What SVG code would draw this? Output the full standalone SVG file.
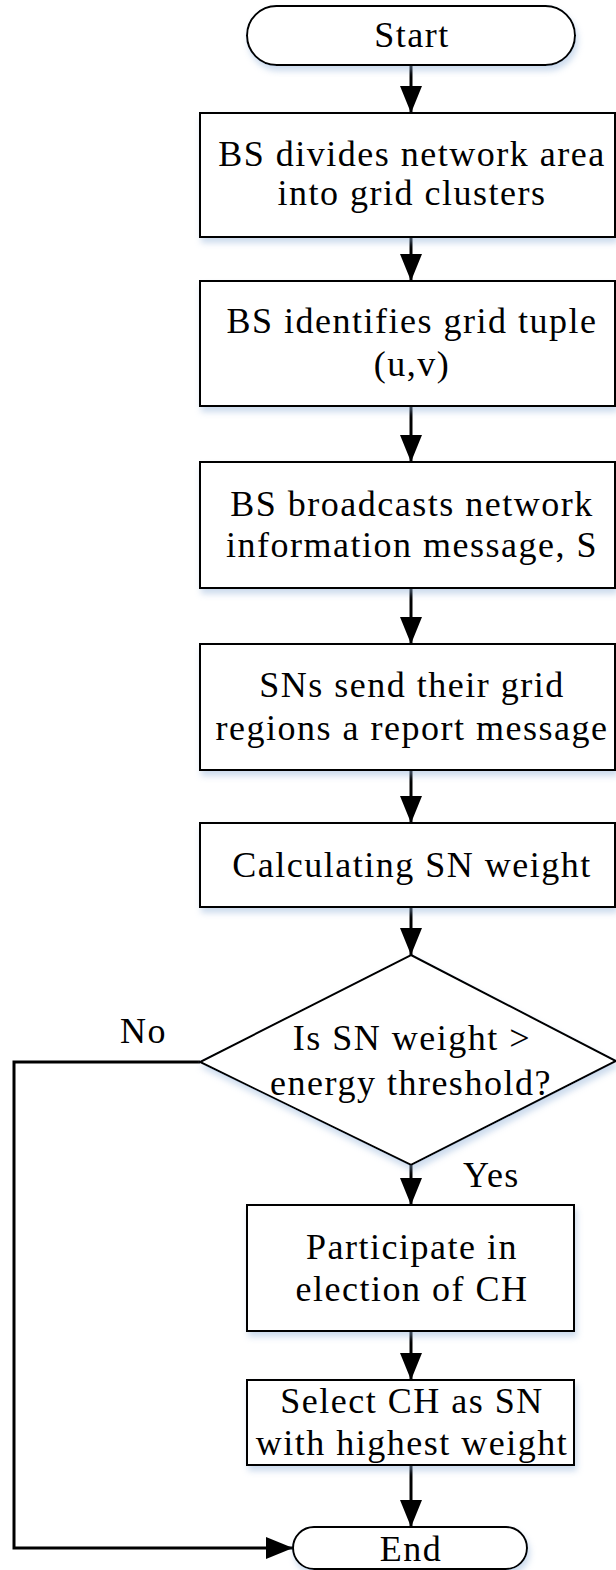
<svg xmlns="http://www.w3.org/2000/svg" width="616" height="1570" viewBox="0 0 616 1570">
<style>
  .shape { fill: #ffffff; stroke: #000000; stroke-width: 2; filter: url(#shadow); }
  .conn { fill: none; stroke: #000000; stroke-width: 3; }
  text { font-family: "Liberation Serif", "Times New Roman", serif; font-size: 36px; letter-spacing: 1.5px; fill: #000000; }
  .c { text-anchor: middle; }
</style>
<defs>
  <filter id="shadow" x="-10%" y="-10%" width="125%" height="130%">
    <feDropShadow dx="2" dy="5" stdDeviation="3" flood-color="#8fb0d8" flood-opacity="0.45"/>
  </filter>
  <marker id="arrow" markerUnits="userSpaceOnUse" markerWidth="28" markerHeight="24" refX="27" refY="11" orient="auto">
    <path d="M0,0 L27,11 L0,22 Z" fill="#000000"/>
  </marker>
</defs>

<g id="connectors">
  <line class="conn" x1="411" y1="65" x2="411" y2="113" marker-end="url(#arrow)"/>
  <line class="conn" x1="411" y1="237" x2="411" y2="281" marker-end="url(#arrow)"/>
  <line class="conn" x1="411" y1="406" x2="411" y2="462" marker-end="url(#arrow)"/>
  <line class="conn" x1="411" y1="588" x2="411" y2="644" marker-end="url(#arrow)"/>
  <line class="conn" x1="411" y1="770" x2="411" y2="823" marker-end="url(#arrow)"/>
  <line class="conn" x1="411" y1="907" x2="411" y2="955" marker-end="url(#arrow)"/>
  <line class="conn" x1="411" y1="1165" x2="411" y2="1205" marker-end="url(#arrow)"/>
  <line class="conn" x1="411" y1="1331" x2="411" y2="1380" marker-end="url(#arrow)"/>
  <line class="conn" x1="411" y1="1465" x2="411" y2="1527" marker-end="url(#arrow)"/>
  <polyline class="conn" points="200,1062 14,1062 14,1548 293,1548" marker-end="url(#arrow)"/>
  <text x="120" y="1043">No</text>
  <text x="463" y="1187">Yes</text>
</g>

<g id="start">
  <rect class="shape" x="247" y="6" width="328" height="59" rx="29.5" ry="29.5"/>
  <text class="c" x="412" y="47">Start</text>
</g>

<g id="divide">
  <rect class="shape" x="200" y="113" width="415" height="124"/>
  <text class="c" x="412" y="166">BS divides network area</text>
  <text class="c" x="412" y="205">into grid clusters</text>
</g>

<g id="identify">
  <rect class="shape" x="200" y="281" width="415" height="125"/>
  <text class="c" x="412" y="333">BS identifies grid tuple</text>
  <text class="c" x="412" y="376">(u,v)</text>
</g>

<g id="broadcast">
  <rect class="shape" x="200" y="462" width="415" height="126"/>
  <text class="c" x="412" y="516">BS broadcasts network</text>
  <text class="c" x="412" y="557">information message, S</text>
</g>

<g id="report">
  <rect class="shape" x="200" y="644" width="415" height="126"/>
  <text class="c" x="412" y="697">SNs send their grid</text>
  <text class="c" x="412" y="740">regions a report message</text>
</g>

<g id="calc">
  <rect class="shape" x="200" y="823" width="415" height="84"/>
  <text class="c" x="412" y="877">Calculating SN weight</text>
</g>

<g id="decision">
  <polygon class="shape" points="411,955 616,1061 411,1165 200,1062"/>
  <text class="c" x="412" y="1050">Is SN weight &gt;</text>
  <text class="c" x="411" y="1095">energy threshold?</text>
</g>

<g id="participate">
  <rect class="shape" x="247" y="1205" width="327" height="126"/>
  <text class="c" x="412" y="1259">Participate in</text>
  <text class="c" x="412" y="1301">election of CH</text>
</g>

<g id="select">
  <rect class="shape" x="247" y="1380" width="327" height="85"/>
  <text class="c" x="412" y="1413">Select CH as SN</text>
  <text class="c" x="412" y="1455">with highest weight</text>
</g>

<g id="end">
  <rect class="shape" x="293" y="1527" width="234" height="42" rx="21" ry="21"/>
  <text class="c" x="411" y="1561">End</text>
</g>
</svg>
